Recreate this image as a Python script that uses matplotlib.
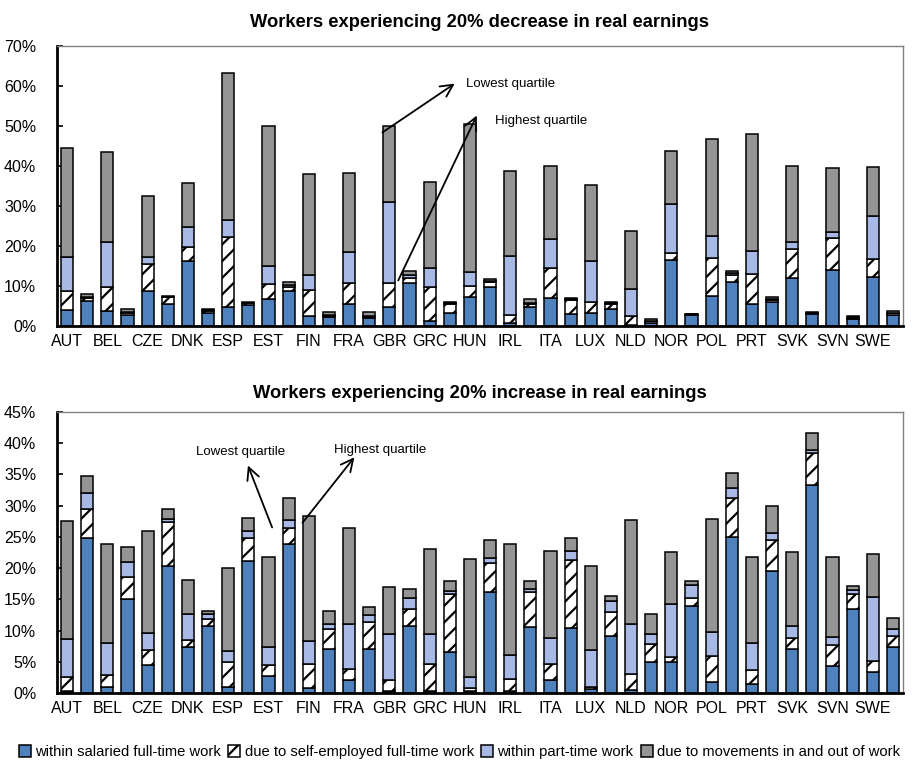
import numpy as np
import matplotlib
matplotlib.use('Agg')
import matplotlib.pyplot as plt
from matplotlib import font_manager
from matplotlib.ticker import MultipleLocator, PercentFormatter

names = {f.name for f in font_manager.fontManager.ttflist}
narrow = 'Liberation Sans Narrow' if 'Liberation Sans Narrow' in names else 'Liberation Sans'
plt.rcParams['font.family'] = [narrow, 'DejaVu Sans']
plt.rcParams['hatch.linewidth'] = 1.6
plt.rcParams['hatch.color'] = '#3a3a3a'

countries = ['AUT', 'BEL', 'CZE', 'DNK', 'ESP', 'EST', 'FIN', 'FRA', 'GBR', 'GRC', 'HUN',
             'IRL', 'ITA', 'LUX', 'NLD', 'NOR', 'POL', 'PRT', 'SVK', 'SVN', 'SWE']

components = ['within salaried full-time work', 'due to self-employed full-time work',
              'within part-time work', 'due to movements in and out of work']

# cumulative tops of each segment, in %, bars ordered country by country:
# lowest quartile, highest quartile
dec_salaried = [4.0, 6.2, 3.8, 2.75, 8.8, 5.5, 16.25, 3.3, 4.8, 5.25, 6.75, 8.75,
                2.6, 2.2, 5.4, 1.9, 4.7, 10.8, 1.25, 3.2, 7.2, 9.8, 0.7, 4.7,
                7.1, 2.9, 3.3, 4.2, 0.3, 0.8, 16.5, 2.75, 7.5, 10.9, 5.4, 5.9,
                12.1, 2.9, 14.0, 1.7, 12.2, 2.75]
dec_selfemp = [8.75, 7.1, 9.75, 3.3, 15.4, 7.2, 19.8, 3.8, 22.2, 5.7, 10.5, 9.8,
               9.0, 2.5, 10.7, 2.3, 10.8, 11.9, 9.75, 5.4, 10.0, 11.1, 2.75, 5.5,
               14.6, 6.5, 5.9, 5.5, 2.6, 1.2, 18.3, 2.9, 17.1, 12.75, 12.9, 6.5,
               19.3, 3.2, 21.9, 2.0, 16.7, 3.2]
dec_parttime = [17.3, 7.3, 20.9, 3.6, 17.2, 7.3, 24.8, 4.0, 26.5, 5.8, 15.1, 10.2,
                12.8, 2.7, 18.6, 2.6, 30.9, 12.75, 14.6, 5.7, 13.4, 11.3, 17.6, 5.8,
                21.7, 6.8, 16.3, 5.7, 9.25, 1.3, 30.5, 3.0, 22.5, 13.2, 18.75, 6.8,
                21.1, 3.25, 23.4, 2.2, 27.6, 3.3]
dec_total = [44.6, 7.9, 43.4, 4.3, 32.4, 7.5, 35.8, 4.3, 63.3, 6.0, 50.0, 10.9,
             37.9, 3.4, 38.3, 3.4, 50.0, 13.8, 36.1, 6.1, 50.5, 11.8, 38.8, 6.8,
             40.1, 7.1, 35.25, 6.1, 23.8, 1.8, 43.75, 3.1, 46.75, 13.75, 47.9, 7.3,
             40.1, 3.5, 39.4, 2.4, 39.8, 3.75]

inc_salaried = [0.3, 24.9, 1.0, 15.1, 4.5, 20.4, 7.3, 10.8, 1.0, 21.1, 2.7, 23.9,
                0.85, 7.05, 2.0, 7.1, 0.3, 10.65, 0.25, 6.5, 0.3, 16.2, 0.25, 10.6,
                2.1, 10.4, 0.7, 9.2, 0.5, 4.9, 4.9, 13.9, 1.8, 25.0, 1.5, 19.6,
                7.05, 33.3, 4.3, 13.4, 3.4, 7.3]
inc_selfemp = [2.5, 29.5, 2.9, 18.6, 6.85, 27.45, 8.45, 11.9, 4.9, 24.8, 4.5, 26.4,
               4.7, 10.3, 3.9, 11.4, 2.0, 13.5, 4.6, 15.9, 0.85, 20.8, 2.2, 16.1,
               4.6, 21.3, 1.0, 12.9, 3.0, 7.8, 5.7, 15.25, 5.9, 31.2, 3.75, 24.5,
               8.8, 38.4, 7.65, 15.8, 5.1, 9.15]
inc_parttime = [8.6, 32.0, 8.0, 21.0, 9.6, 27.9, 12.6, 12.6, 6.75, 25.95, 7.3, 27.7,
                8.35, 11.1, 11.0, 12.5, 9.4, 15.25, 9.4, 16.4, 2.5, 21.6, 6.15, 16.6,
                8.8, 22.8, 6.85, 14.8, 11.0, 9.5, 14.3, 17.3, 9.8, 32.8, 8.0, 25.6,
                10.75, 38.85, 9.0, 16.5, 15.4, 10.3]
inc_total = [27.6, 34.7, 23.9, 23.4, 25.95, 29.5, 18.1, 13.1, 19.95, 28.1, 21.8, 31.3,
             28.4, 13.2, 26.4, 13.75, 17.0, 16.6, 23.1, 17.9, 21.4, 24.45, 23.9, 18.0,
             22.7, 24.9, 20.3, 15.6, 27.7, 12.7, 22.6, 17.9, 27.8, 35.3, 21.8, 30.0,
             22.6, 41.7, 21.8, 17.1, 22.2, 12.0]

colors = ['#4f81bd', 'white', '#a7b9e4', '#959595']
hatches = [None, '//', None, None]

fig = plt.figure(figsize=(9.19, 7.62), dpi=100)
ax1 = fig.add_axes([0.062, 0.5722, 0.9206, 0.3674])
ax2 = fig.add_axes([0.062, 0.0906, 0.9206, 0.3687])


def draw(ax, tops, ymax, step, title, title_pad):
    x = np.arange(len(tops[0]))
    prev = np.zeros(len(x))
    for i, t in enumerate(tops):
        t = np.array(t)
        ax.bar(x, t - prev, bottom=prev, width=0.6, color=colors[i], hatch=hatches[i],
               edgecolor='black', linewidth=1.1, label=components[i], zorder=2)
        prev = t
    ax.set_xlim(-0.5, len(x) - 0.5)
    ax.set_ylim(0, ymax)
    ax.yaxis.set_major_locator(MultipleLocator(step))
    ax.yaxis.set_major_formatter(PercentFormatter(decimals=0))
    ax.set_xticks(x[::2])
    ax.set_xticklabels(countries)
    ax.tick_params(axis='x', length=0, labelsize=11.5, pad=6)
    ax.tick_params(axis='y', direction='in', length=4, width=1.2, labelsize=11.5, pad=15)
    for s in ['left', 'bottom']:
        ax.spines[s].set_linewidth(2)
        ax.spines[s].set_color('black')
    for s in ['top', 'right']:
        ax.spines[s].set_linewidth(1)
        ax.spines[s].set_color('#808080')
    ax.set_title(title, fontsize=13.2, fontweight='bold', pad=title_pad)


draw(ax1, [dec_salaried, dec_selfemp, dec_parttime, dec_total], 70, 10,
     'Workers experiencing 20% decrease in real earnings', 14)
draw(ax2, [inc_salaried, inc_selfemp, inc_parttime, inc_total], 45, 5,
     'Workers experiencing 20% increase in real earnings', 10)

arrow = dict(arrowstyle='->', lw=1.3, color='black', mutation_scale=22)
ax1.annotate('', xy=(19.36, 61), xytext=(15.54, 48), arrowprops=arrow)
ax1.annotate('', xy=(20.4, 53.25), xytext=(16.38, 10.75), arrowprops=arrow)
ax1.text(19.8, 60.5, 'Lowest quartile', fontsize=9.5, va='center')
ax1.text(21.25, 51.2, 'Highest quartile', fontsize=9.5, va='center')

ax2.annotate('', xy=(8.93, 36.85), xytext=(10.23, 26.1), arrowprops=arrow)
ax2.annotate('', xy=(14.35, 38.1), xytext=(11.6, 26.9), arrowprops=arrow)
ax2.text(8.6, 38.6, 'Lowest quartile', fontsize=9.5, va='center', ha='center')
ax2.text(13.25, 38.9, 'Highest quartile', fontsize=9.5, va='center')

handles, labels = ax2.get_legend_handles_labels()
fig.legend(handles, labels, loc='center left', bbox_to_anchor=(19 / 919, 1 - 752 / 762),
           ncol=4, frameon=False, fontsize=10.6, handlelength=0.8, handleheight=0.8,
           handletextpad=0.3, columnspacing=0.5, borderpad=0, borderaxespad=0)

fig.savefig('out.png', dpi=100)
